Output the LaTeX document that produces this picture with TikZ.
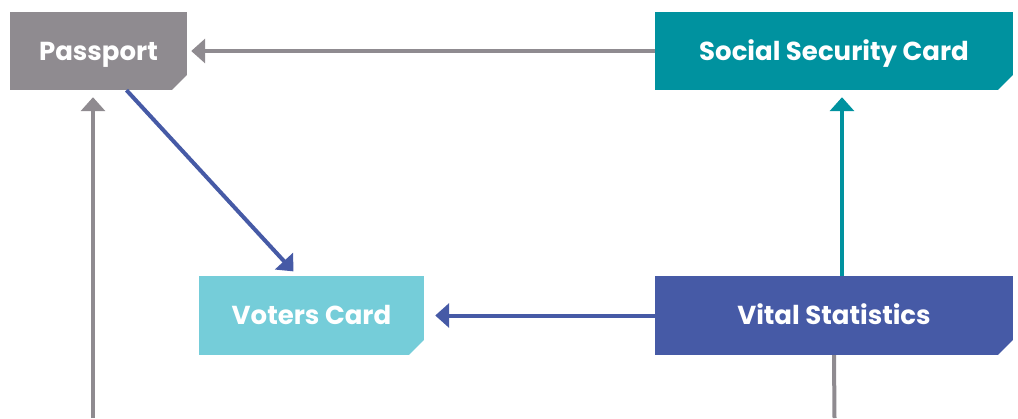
\documentclass[tikz,border=0pt]{standalone}
\usepackage{fontspec}
\setmainfont{Poppins}
\usetikzlibrary{arrows.meta}

\definecolor{passgray}{HTML}{8F8B90}
\definecolor{ssteal}{HTML}{00929F}
\definecolor{votercyan}{HTML}{75CDD9}
\definecolor{vitalblue}{HTML}{465AA6}

\tikzset{
	card/.style={fill=#1,text=white,inner sep=0pt,minimum height=78pt,
		text height=18pt,text depth=0pt,
		font=\bfseries\fontsize{26}{30}\selectfont,
		path picture={\fill[white] ([xshift=-15pt]path picture bounding box.south east)
			-- (path picture bounding box.south east)
			-- ([yshift=15pt]path picture bounding box.south east) -- cycle;}},
	link/.style={draw=#1,line width=4pt,-{Triangle[length=14pt,width=24pt]}}
}

\begin{document}
\begin{tikzpicture}[x=1pt,y=-1pt]
	\useasboundingbox (0,0) rectangle (1018,418);
	
	% Cards
	\node[card=passgray,minimum width=177pt] (passport) at (98.5,51) {Passport};
	\node[card=ssteal,minimum width=358pt] (ssc) at (834,51) {Social Security Card};
	\node[card=votercyan,minimum width=225pt,minimum height=79pt] (voters) at (311.5,315.5) {Voters Card};
	\node[card=vitalblue,minimum width=358pt,minimum height=79pt] (vital) at (834,315.5) {Vital Statistics};
	
	% Free ends at the bottom
	\coordinate (passin) at (93,418);
	\coordinate (vitalout) at (834.5,418);
	
	% Links
	\draw[link=passgray,shorten >=4pt] (ssc.west) -- (passport.east);
	\draw[link=ssteal,shorten >=7pt] ([xshift=8pt]vital.north) -- ([xshift=8pt]ssc.south);
	\draw[link=vitalblue,shorten >=11pt] (vital.west) -- (voters.east);
	\draw[link=vitalblue,shorten >=6pt] ([xshift=28pt]passport.south) -- ([xshift=-14pt]voters.north);
	\draw[link=passgray,shorten >=7pt] (passin) -- (passin |- passport.south);
	\draw[passgray,line width=4pt] (vital.south) -- (vitalout);
	
\end{tikzpicture}
\end{document}
